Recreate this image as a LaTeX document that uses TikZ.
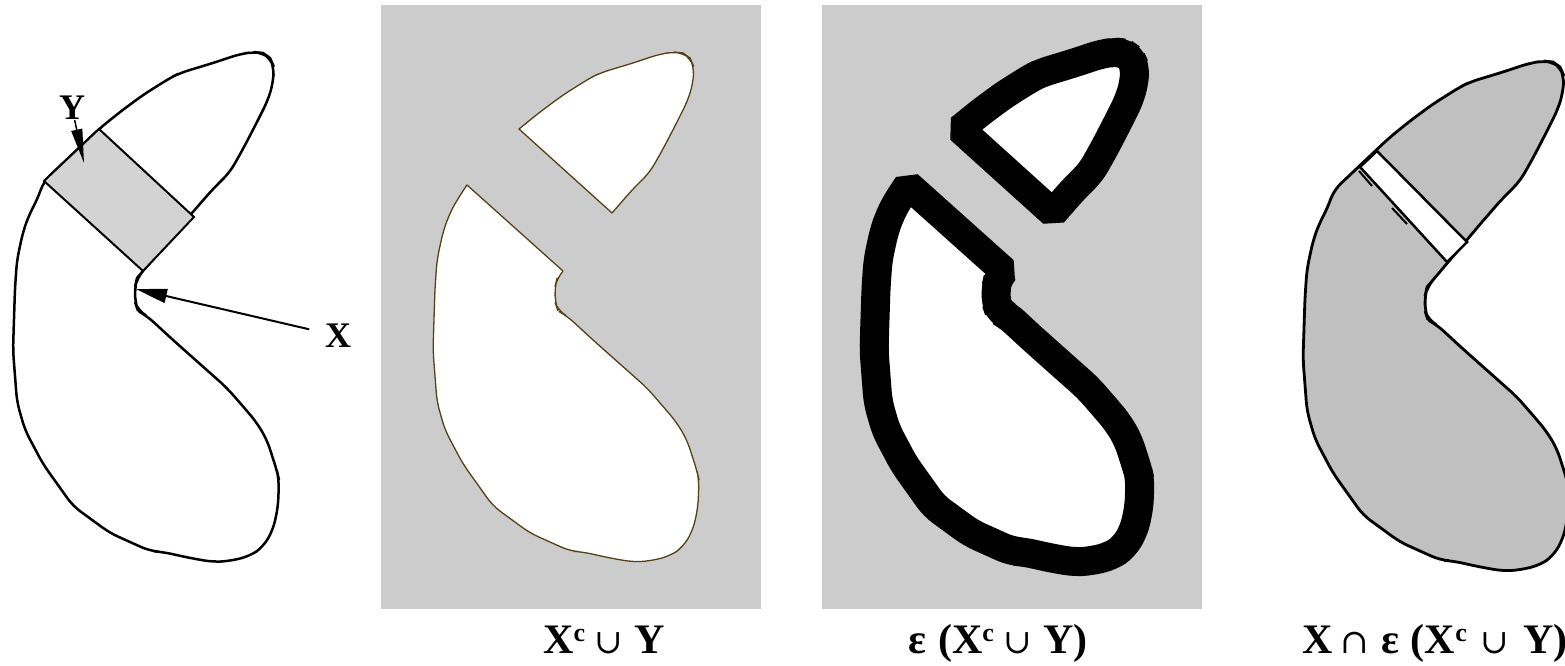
\documentclass[tikz,border=0pt]{standalone}
\usepackage{fontspec}
\setmainfont{Liberation Serif}
\newfontfamily\symf{DejaVu Serif}
\usetikzlibrary{arrows.meta}
\definecolor{panelgray}{HTML}{CCCCCC}
\definecolor{rectgray}{HTML}{D3D3D3}
\definecolor{shapegray}{HTML}{C0C0C0}
\definecolor{edgebrown}{RGB}{85,65,25}
\newcommand{\mycup}{{\symf\mdseries\fontsize{34}{36}\selectfont ∪}}
\newcommand{\mycap}{{\symf\mdseries\fontsize{34}{36}\selectfont ∩}}
\newcommand{\supc}{\raisebox{12pt}{\fontsize{26}{28}\selectfont c}}
\def\UpperMid{(212,190) -- (230,172) -- (243,149) -- (256,124) -- (268,100) -- (273,83) -- (274,67) -- (270,58) -- (263,53) -- (254,52) -- (240,54) -- (213,63) -- (180,73) -- (170,78) -- (143,95) -- (120,112)}
\def\LowerMid{(37,200) -- (29,215) -- (23,232) -- (17,260) -- (15,288) -- (13,350) -- (17,402) -- (25,430) -- (43,464) -- (73,506) -- (110,533) -- (150,551) -- (163,552) -- (190,558) -- (213,562) -- (230,561) -- (250,556) -- (263,547) -- (273,530) -- (278,507) -- (279,480) -- (277,471) -- (267,440) -- (257,423) -- (247,411) -- (227,388) -- (200,364) -- (173,340) -- (147,316) -- (138,311) -- (135,302) -- (135,287) -- (137,278)}
\begin{document}
\begin{tikzpicture}[x=1pt,y=-1pt,
  outline/.style={draw=black, line width=2.5pt, line join=round},
  lbl/.style={font=\bfseries\fontsize{36}{38}\selectfont, inner sep=0pt},
  captxt/.style={font=\bfseries\fontsize{42}{46}\selectfont, anchor=base west, inner sep=0pt},
  piece2/.style={fill=white, draw=edgebrown, line width=1.3pt, line join=round},
  piece3/.style={fill=white, draw=black, line width=29pt, line join=bevel}]
\useasboundingbox (0,0) rectangle (1565,666);
\clip (0,0) rectangle (1565,666);

% panel 1
\path[outline, fill=white] (192,213) [rounded corners=9pt] -- \UpperMid -- (99,129) -- (44,181) -- \LowerMid -- (143,271) [sharp corners] -- cycle;
\filldraw[fill=rectgray, draw=black, line width=2pt, line join=miter] (44,181) -- (99,129) -- (194,217) -- (143,271) -- cycle;
\node[lbl] (Y) at (72,108) {Y};
\node[lbl] (X) at (338,336) {X};
\coordinate (ytip) at (84,163);
\coordinate (xtip) at (136,289);
\draw[line width=1.5pt, -{Triangle[length=34pt,width=11pt]}] (Y) -- (ytip);
\draw[line width=2pt, shorten <=16pt, -{Triangle[length=31pt,width=14pt]}] (X) -- (xtip);

% panel 2
\fill[panelgray] (381,5) rectangle (761,609);
\begin{scope}[shift={(420,0)}]
  \path[piece2] (192,213) [rounded corners=9pt] -- \UpperMid [sharp corners] -- (99,129) -- cycle;
  \path[piece2] (47,185) [rounded corners=9pt] -- \LowerMid [sharp corners] -- (143,271) -- cycle;
\end{scope}

% panel 3
\fill[panelgray] (822,5) rectangle (1202,609);
\begin{scope}[shift={(861,0)}]
  \path[piece3] (192,213) [rounded corners=9pt] -- \UpperMid [sharp corners] -- (99,129) -- cycle;
  \path[piece3] (47,185) [rounded corners=9pt] -- \LowerMid [sharp corners] -- (143,271) -- cycle;
\end{scope}

% panel 4
\begin{scope}[shift={(1290,9)}]
  \path[outline, fill=shapegray, line width=2.8pt] (192,213) [rounded corners=9pt] -- \UpperMid -- (99,129) -- (44,181) -- \LowerMid -- (143,271) [sharp corners] -- cycle;
\end{scope}
\filldraw[fill=white, draw=black, line width=2.5pt, line join=miter] (1360,167) -- (1377,151) -- (1467,242) -- (1447,262) -- cycle;
\draw[line width=2pt] (1359,171) -- (1372,186);
\draw[line width=2pt] (1392,208) -- (1407,224);

% captions
\node[captxt] (c1) at (543,653) {X\supc\hspace{9pt}\mycup\hspace{12pt}Y};
\node[captxt] (c2) at (908,653) {ε\hspace{12pt}(X\supc\hspace{9pt}\mycup\hspace{12pt}Y)};
\node[captxt] (c3) at (1302,653) {X\hspace{8pt}\mycap\hspace{12pt}ε\hspace{12pt}(X\supc\hspace{14pt}\mycup\hspace{14pt}Y)};
\end{tikzpicture}
\end{document}
